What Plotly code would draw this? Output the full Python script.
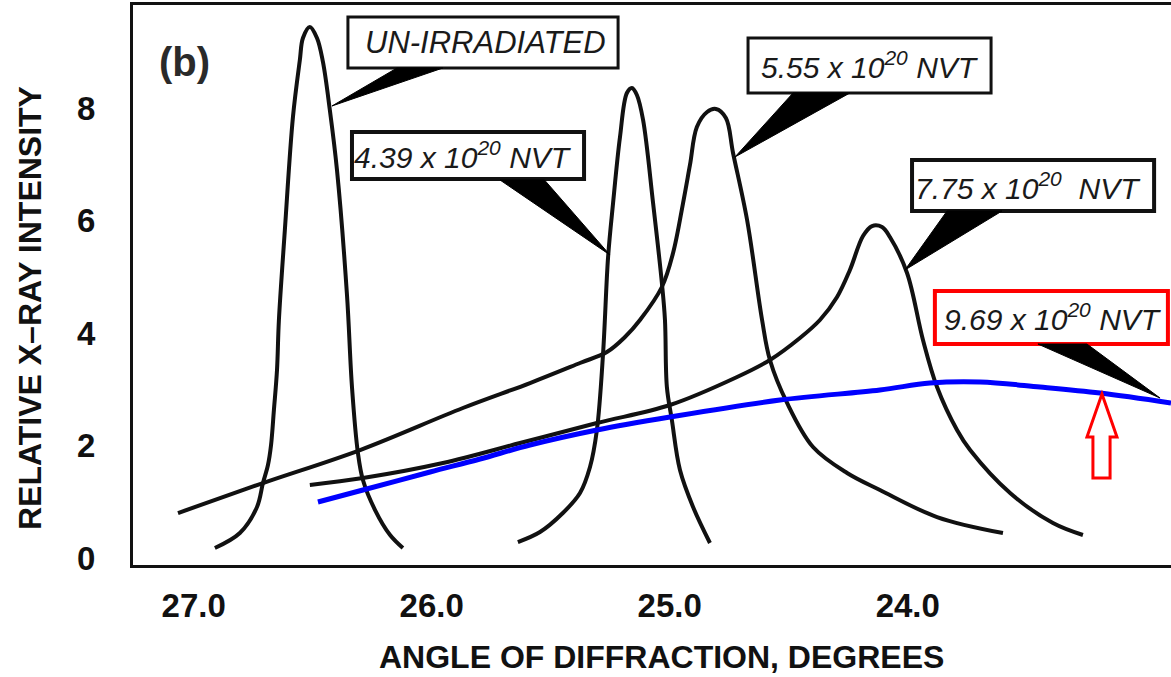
import plotly.graph_objects as go

# ---- data (angle in degrees, relative intensity) ----
un_x = [26.911, 26.806, 26.734, 26.709, 26.688, 26.675, 26.663, 26.650, 26.642, 26.617, 26.583, 26.554, 26.541,
        26.512, 26.482, 26.457, 26.428, 26.398, 26.356, 26.335, 26.310, 26.289, 26.238, 26.175, 26.121]
un_y = [0.178, 0.444, 0.907, 1.333, 1.653, 2.009, 2.631, 3.342, 4.231, 5.831, 7.840, 8.853, 9.244,
        9.44, 9.244, 8.818, 7.964, 6.898, 4.676, 3.040, 1.867, 1.387, 0.853, 0.409, 0.178]

n439_x = [25.638, 25.545, 25.449, 25.377, 25.335, 25.306, 25.280, 25.259, 25.238, 25.209, 25.180, 25.159,
          25.138, 25.112, 25.070, 25.033, 25.020, 25.012, 24.991, 24.957, 24.902, 24.831]
n439_y = [0.284, 0.462, 0.8, 1.156, 1.618, 2.276, 3.644, 5.351, 6.311, 7.484, 8.267, 8.356,
          8.231, 7.787, 6.311, 4.889, 4.231, 3.040, 2.453, 1.564, 0.907, 0.267]

n555_x = [27.066, 26.709, 26.301, 25.869, 25.587, 25.377, 25.264, 25.188, 25.125, 25.033, 24.986, 24.944,
          24.915, 24.886, 24.843, 24.806, 24.764, 24.734, 24.675, 24.612, 24.579, 24.507, 24.398, 24.255,
          24.117, 23.877, 23.600]
n555_y = [0.800, 1.333, 1.920, 2.667, 3.111, 3.467, 3.662, 3.929, 4.231, 4.818, 5.422, 6.311,
          6.987, 7.662, 7.929, 7.982, 7.822, 7.2, 6.009, 4.231, 3.52, 2.756, 1.973, 1.511,
          1.209, 0.729, 0.444]

n775_x = [26.512, 26.289, 25.953, 25.629, 25.306, 24.999, 24.717, 24.579, 24.453, 24.369, 24.297, 24.243,
          24.188, 24.150, 24.108, 24.075, 24.003, 23.936, 23.877, 23.793, 23.738, 23.570, 23.390, 23.264]
n775_y = [1.298, 1.422, 1.689, 2.044, 2.4, 2.72, 3.218, 3.52, 3.911, 4.231, 4.64, 5.12,
          5.724, 5.902, 5.884, 5.707, 5.067, 3.876, 3.040, 2.276, 1.92, 1.156, 0.622, 0.409]

n969_x = [26.478, 26.289, 26.007, 25.797, 25.587, 25.306, 24.999, 24.537, 24.117, 23.907, 23.696, 23.444,
          23.192, 22.894]
n969_y = [0.996, 1.209, 1.529, 1.760, 2.009, 2.276, 2.507, 2.809, 2.987, 3.111, 3.129, 3.04,
          2.933, 2.756]

x_ticks = [27.0, 26.0, 25.0, 24.0]
x_tick_labels = ["27.0", "26.0", "25.0", "24.0"]
y_ticks = [0, 2, 4, 6, 8]
y_tick_labels = ["0", "2", "4", "6", "8"]

labels = ["UN-IRRADIATED",
          "4.39 x 10<sup>20</sup> NVT",
          "5.55 x 10<sup>20</sup> NVT",
          "7.75 x 10<sup>20</sup>  NVT",
          "9.69 x 10<sup>20</sup> NVT"]
x_title = "ANGLE OF DIFFRACTION, DEGREES"
y_title = "RELATIVE X–RAY INTENSITY"

AXIS_FONT = "Liberation Sans, Arial, sans-serif"
LABEL_FONT = "Liberation Sans, Arial, sans-serif"

fig = go.Figure()
black_line = dict(color="#111111", width=4, shape="spline", smoothing=1.0)
for xs, ys in [(un_x, un_y), (n439_x, n439_y), (n555_x, n555_y), (n775_x, n775_y)]:
    fig.add_trace(go.Scatter(x=xs, y=ys, mode="lines", line=black_line, showlegend=False, hoverinfo="skip"))
fig.add_trace(go.Scatter(x=n969_x, y=n969_y, mode="lines",
                         line=dict(color="#0000ff", width=5, shape="spline", smoothing=1.0),
                         showlegend=False, hoverinfo="skip"))

shapes = []
# callout boxes (x0, x1, y0, y1)
boxes = [(26.352, 25.217, 8.711, 9.618, "#111111", 3),
         (26.335, 25.360, 6.738, 7.573, "#111111", 4),
         (24.671, 23.650, 8.267, 9.244, "#111111", 3),
         (23.982, 22.965, 6.169, 7.076, "#111111", 4),
         (23.886, 22.907, 3.804, 4.747, "#ff0000", 4)]
for x0, x1, y0, y1, col, w in boxes:
    shapes.append(dict(type="rect", xref="x", yref="y", x0=x0, x1=x1, y0=y0, y1=y1,
                       line=dict(color=col, width=w), fillcolor="white", layer="above"))

# pointer wedges: (base x a, base x b, base y, tip x, tip y)
wedges = [(26.146, 25.953, 8.711, 26.419, 8.036),
          (25.713, 25.526, 6.72, 25.251, 5.387),
          (24.482, 24.243, 8.267, 24.726, 7.129),
          (23.835, 23.604, 6.169, 24.012, 5.12),
          (23.453, 23.247, 3.804, 22.940, 2.844)]
for xa, xb, yb, xt, yt in wedges:
    shapes.append(dict(type="path", xref="x", yref="y",
                       path=f"M {xa},{yb} L {xb},{yb} L {xt},{yt} Z",
                       fillcolor="#000000", line=dict(color="#000000", width=1), layer="above"))

# hollow red arrow
ax = dict(tip=23.184, hl=23.247, hr=23.121, sl=23.222, sr=23.150)
ay = dict(tip=2.916, head=2.151, bot=1.422)
shapes.append(dict(type="path", xref="x", yref="y",
                   path=(f"M {ax['tip']},{ay['tip']} L {ax['hr']},{ay['head']} L {ax['sr']},{ay['head']} "
                         f"L {ax['sr']},{ay['bot']} L {ax['sl']},{ay['bot']} L {ax['sl']},{ay['head']} "
                         f"L {ax['hl']},{ay['head']} Z"),
                   fillcolor="white", line=dict(color="#ff0000", width=3), layer="above"))

annotations = []
label_pos = [(25.776, 9.164), (25.869, 7.156), (24.158, 8.756), (23.493, 6.622), (23.388, 4.276)]
label_size = [31, 30, 30, 30, 30]
for txt, (lx, ly), sz in zip(labels, label_pos, label_size):
    annotations.append(dict(x=lx, y=ly, xref="x", yref="y", text=f"<i>{txt}</i>", showarrow=False,
                            xanchor="center", yanchor="middle",
                            font=dict(family=LABEL_FONT, size=sz, color="#1a1a1a")))
annotations.append(dict(x=0.050, y=0.898, xref="paper", yref="paper", text="<b>(b)</b>", showarrow=False,
                        xanchor="center", yanchor="middle",
                        font=dict(family=AXIS_FONT, size=40, color="#2a2a2a")))
# axis titles
annotations.append(dict(x=0.5096, y=-0.164, xref="paper", yref="paper", text=f"<b>{x_title}</b>",
                        showarrow=False, xanchor="center", yanchor="middle",
                        font=dict(family=AXIS_FONT, size=32, color="#111111")))
annotations.append(dict(x=-0.0992, y=0.459, xref="paper", yref="paper", text=f"<b>{y_title}</b>",
                        showarrow=False, xanchor="center", yanchor="middle", textangle=-90,
                        font=dict(family=AXIS_FONT, size=32, color="#111111")))

fig.update_layout(
    width=1171, height=677,
    margin=dict(l=133, r=0, t=5, b=112),
    paper_bgcolor="white", plot_bgcolor="white",
    shapes=shapes, annotations=annotations,
    xaxis=dict(range=[27.255, 22.894], tickvals=x_ticks, ticktext=x_tick_labels,
               showgrid=False, zeroline=False, showline=True, linecolor="#111111", linewidth=3,
               mirror=True, ticks="", ticklabelstandoff=9,
               tickfont=dict(family=AXIS_FONT, size=33, color="#111111", weight="bold")),
    yaxis=dict(range=[-0.124, 9.831], tickvals=y_ticks, ticktext=y_tick_labels,
               showgrid=False, zeroline=False, showline=True, linecolor="#111111", linewidth=3,
               mirror=False, ticks="", ticklabelstandoff=28,
               tickfont=dict(family=AXIS_FONT, size=33, color="#111111", weight="bold")),
)

fig.write_html("out.html")
